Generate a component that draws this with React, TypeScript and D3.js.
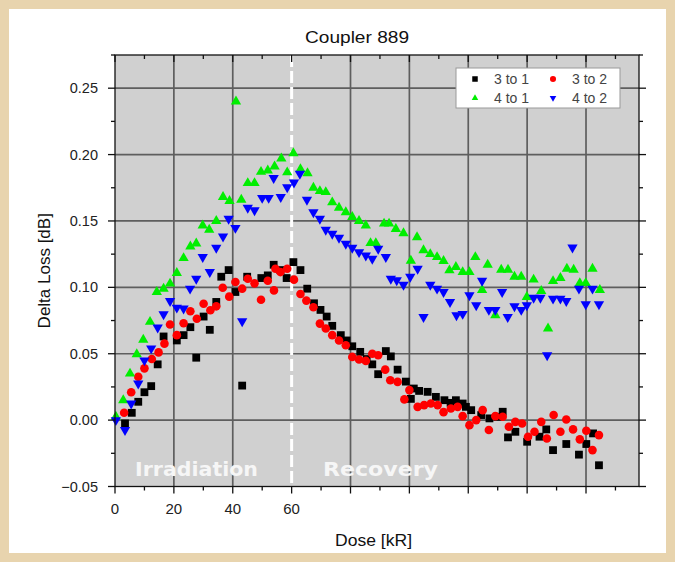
import React from "react";
import * as d3 from "d3";

const title = "Coupler 889";
const xLabel = "Dose [kR]";
const yLabel = "Delta Loss [dB]";
const xTickLabels = [0, 20, 40, 60];
const yTicks = [-0.05, 0.0, 0.05, 0.1, 0.15, 0.2, 0.25];
const xGrid = [20, 40, 80, 100, 120, 140, 160];
const dividerDose = 60;
const phaseLabels = ["Irradiation", "Recovery"];

const s31Dose = [3.4,5.7,7.9,10,12.3,14.5,16.5,21,23.3,25.6,27.6,30.1,32.2,34.4,36.1,38.6,40.9,43.2,44.9,49.7,51.9,53.9,56.2,58.3,60.6,63,65.3,67.6,69.8,71.9,73.8,76.7,78.7,80.6,83.3,85.5,87.4,89.4,92,93.7,96,98.8,100.5,101.5,103.3,106.2,109,111.9,114,115.8,118.1,119.2,121,124.4,127.2,130,131.7,133.5,136,140,144.2,146.5,148.8,153.3,157.6,160.1,162.4,164.4];
const s31Val = [-0.0025,0.0055,0.0138,0.021,0.0256,0.042,0.063,0.06,0.064,0.07,0.047,0.078,0.068,0.089,0.108,0.113,0.0965,0.026,0.108,0.107,0.109,0.117,0.113,0.107,0.119,0.113,0.099,0.088,0.083,0.078,0.071,0.064,0.06,0.0556,0.0514,0.046,0.042,0.0346,0.052,0.048,0.038,0.029,0.016,0.0238,0.022,0.0213,0.0175,0.015,0.013,0.015,0.0125,0.01,0.0075,0.0038,0.0013,0.0025,0.0063,-0.013,-0.0088,-0.0163,-0.0125,-0.007,-0.0226,-0.018,-0.026,-0.018,-0.01,-0.034];

const s32Dose = [3.1,5.5,7.9,10,12.5,14.8,16.8,18.7,21,23.3,25.6,27.8,30.1,32.4,34.4,36.6,38.8,40.9,43.2,45.1,47.4,49.6,51.9,54,54.5,56.2,58.5,60.8,63,65,67.4,69.6,71.6,73.8,76.1,78.4,80.6,82.9,85.2,87.4,89.4,91.8,93.5,96,98.3,100,102.8,105,107.3,109.6,111.6,114.1,116.4,118.1,120.4,122.7,124.9,127,129.2,131.7,133.8,136,138.3,140.3,142.5,144.8,146.7,149,151.3,153.3,155.6,157.9,160.1,162.2,164.4];
const s32Val = [0.0055,0.021,0.0326,0.039,0.046,0.051,0.0576,0.072,0.064,0.073,0.082,0.0764,0.0877,0.0827,0.0857,0.0997,0.093,0.104,0.099,0.1065,0.103,0.0907,0.105,0.0977,0.114,0.1115,0.114,0.1058,0.095,0.09,0.085,0.0727,0.069,0.064,0.06,0.0564,0.0476,0.0456,0.0446,0.05,0.0489,0.038,0.03,0.0288,0.0156,0.0226,0.01,0.0113,0.0125,0.0113,0.006,0.0088,0.01,0.003,-0.0038,0,0.0075,-0.0075,0.003,0.0025,-0.005,-0.0013,-0.0025,-0.0125,-0.0088,-0.0013,-0.0138,0.0038,-0.0088,0.0005,-0.007,-0.0145,-0.008,-0.0226,-0.0113];

const s41Dose = [0.3,2.8,5.1,7.4,9.6,11.9,14.2,16.5,18.7,21,23.3,25.6,27.6,29.8,32,34.4,36.7,38.9,41.1,42.9,45.1,47.4,49.6,51.9,54.2,56.5,58.5,60.6,63,65.4,67.4,69.6,71.6,73.8,76.1,78.4,80.6,82.9,85.2,86.8,88.6,91.4,93.1,95.4,98,100.5,102.6,104.8,107.1,109.4,111.6,113.6,115.8,118.1,120.4,122.4,124.7,126.6,129.2,131.2,133.5,135.7,138,139.9,142.2,144.8,147.1,148.8,151.3,153.5,155.8,157.9,159.9,162.2,164.7];
const s41Val = [0.0025,0.015,0.035,0.0496,0.0606,0.074,0.0965,0.099,0.1028,0.1108,0.122,0.1308,0.133,0.1466,0.1434,0.15,0.168,0.165,0.24,0.166,0.1785,0.1785,0.187,0.188,0.191,0.197,0.1866,0.201,0.189,0.186,0.175,0.1725,0.1717,0.164,0.16,0.1566,0.153,0.15,0.1466,0.1333,0.1333,0.148,0.148,0.144,0.1408,0.12,0.1378,0.128,0.125,0.1228,0.1198,0.1128,0.1153,0.1115,0.1115,0.1228,0.098,0.117,0.079,0.1133,0.1133,0.108,0.108,0.0927,0.1058,0.0972,0.069,0.1047,0.107,0.114,0.1133,0.1032,0.1032,0.114,0.098];

const s42Dose = [0.3,3.4,5.5,7.9,10,12.3,14.5,16.5,18.7,21,23.3,25.5,27.6,29.8,32.2,34.4,36.7,38.6,40.9,43.2,45.1,47.4,50,52.2,53.9,56.3,58.5,60.8,62.8,65.2,67.4,69.6,71.6,73.8,76.1,78.4,80.6,82.9,85.2,87.4,89.4,92,93.7,95.7,98,100.3,102.8,104.8,107.1,109.4,111.6,113.8,116,118.1,120.4,122.7,124.7,127,129.2,131.5,133.4,135.7,138,139.9,142.2,144.5,146.8,148.8,151.3,153.3,155.4,157.6,159.9,162.2,164.4];
const s42Val = [0,-0.0075,0.0125,0.0276,0.045,0.054,0.0697,0.0797,0.0897,0.0847,0.084,0.099,0.1065,0.1228,0.1115,0.1298,0.1383,0.1516,0.1448,0.0744,0.16,0.158,0.1674,0.1674,0.1824,0.168,0.1754,0.179,0.1855,0.166,0.1566,0.1516,0.1434,0.1404,0.1374,0.1328,0.1298,0.1265,0.124,0.1215,0.129,0.1228,0.1065,0.1053,0.102,0.108,0.114,0.0777,0.102,0.099,0.0965,0.089,0.079,0.08,0.094,0.0865,0.105,0.083,0.083,0.0965,0.0777,0.0857,0.083,0.0865,0.0922,0.0922,0.0489,0.0915,0.0915,0.0897,0.13,0.099,0.0872,0.099,0.0872];

const seriesNames = ["3 to 1", "3 to 2", "4 to 1", "4 to 2"];
const seriesColors = ["#000000", "#ff0000", "#00ee00", "#0000ff"];
const seriesShapes = ["square", "circle", "triangleUp", "triangleDown"];
const seriesDose = [s31Dose, s32Dose, s41Dose, s42Dose];
const seriesVal = [s31Val, s32Val, s41Val, s42Val];

const W = 675;
const H = 562;
const L = 115, R = 639, T = 55, B = 486.5;
const FONT = "'Liberation Sans', Arial, sans-serif";

const x = d3.scaleLinear().domain([0, 178]).range([L, R]);
const y = d3.scaleLinear().domain([-0.05, 0.275]).range([B, T]);

function Marker({ shape, cx, cy, color, s }: { shape: string; cx: number; cy: number; color: string; s: number }) {
  if (shape === "square") {
    return <rect x={cx - s / 2} y={cy - s / 2} width={s} height={s} fill={color} />;
  }
  if (shape === "circle") {
    return <circle cx={cx} cy={cy} r={s / 2 + 0.3} fill={color} />;
  }
  const sym = d3.symbol().type(d3.symbolTriangle).size(s * s * 0.62)();
  const rot = shape === "triangleDown" ? 180 : 0;
  return <path d={sym || ""} fill={color} transform={`translate(${cx},${cy}) rotate(${rot})`} />;
}

export default function App() {
  const xMinor = d3.range(0, 179, 10);
  const yMinor = d3.range(-0.05, 0.2751, 0.025);
  return (
    <svg width={W} height={H} style={{ position: "absolute", left: 0, top: 0 }} fontFamily={FONT}>
      <rect x={0} y={0} width={W} height={H} fill="#e8d4ae" />
      <rect x={9} y={9} width={657} height={544} fill="#ffffff" />
      <rect x={L} y={T} width={R - L} height={B - T} fill="#d0d0d0" />
      {/* grid */}
      {xGrid.map((g) => (
        <line key={"xg" + g} x1={x(g)} x2={x(g)} y1={T} y2={B} stroke="#5e5e5e" strokeWidth={1.7} />
      ))}
      {yTicks.filter((t) => t > -0.05).map((t) => (
        <line key={"yg" + t} x1={L} x2={R} y1={y(t)} y2={y(t)} stroke="#5e5e5e" strokeWidth={1.7} />
      ))}
      <line x1={x(dividerDose)} x2={x(dividerDose)} y1={T} y2={B} stroke="#ffffff" strokeWidth={3} strokeDasharray="12,4" />
      {/* phase labels */}
      <text x={135} y={476} fill="#f6f6f6" fontWeight="bold" fontSize={20} fontFamily="'DejaVu Sans', sans-serif" textLength={123} lengthAdjust="spacingAndGlyphs">{phaseLabels[0]}</text>
      <text x={323} y={476} fill="#f6f6f6" fontWeight="bold" fontSize={20} fontFamily="'DejaVu Sans', sans-serif" textLength={115} lengthAdjust="spacingAndGlyphs">{phaseLabels[1]}</text>
      {/* data */}
      {seriesDose.map((ds, si) => (
        <g key={"s" + si}>
          {ds.map((d, i) => (
            <Marker key={i} shape={seriesShapes[si]} cx={x(d)} cy={y(seriesVal[si][i])} color={seriesColors[si]} s={si === 0 ? 7.8 : si === 1 ? 8 : 8.6} />
          ))}
        </g>
      ))}
      {/* frame */}
      <rect x={L} y={T} width={R - L} height={B - T} fill="none" stroke="#111" strokeWidth={1.3} />
      {/* ticks */}
      {xMinor.map((t) => {
        const major = t % 20 === 0;
        const len = major ? 7 : 4;
        return (
          <g key={"xt" + t}>
            <line x1={x(t)} x2={x(t)} y1={B} y2={B + len} stroke="#111" strokeWidth={1.3} />
            <line x1={x(t)} x2={x(t)} y1={T} y2={T + len} stroke="#111" strokeWidth={1.3} />
          </g>
        );
      })}
      {yMinor.map((t, i) => {
        const major = i % 2 === 0;
        const len = major ? 7 : 4;
        return (
          <g key={"yt" + i}>
            <line x1={L - len} x2={L} y1={y(t)} y2={y(t)} stroke="#111" strokeWidth={1.3} />
            <line x1={R} x2={R + len} y1={y(t)} y2={y(t)} stroke="#111" strokeWidth={1.3} />
          </g>
        );
      })}
      {/* tick labels */}
      {xTickLabels.map((t) => (
        <text key={"xl" + t} x={x(t)} y={514} textAnchor="middle" fontSize={15} fill="#222">{t}</text>
      ))}
      {yTicks.map((t) => (
        <text key={"yl" + t} x={98} y={y(t) + 5} textAnchor="end" fontSize={14.5} fill="#222">{d3.format(".2f")(t)}</text>
      ))}
      {/* titles */}
      <text x={305} y={43} fontSize={17} fill="#111" textLength={104} lengthAdjust="spacingAndGlyphs">{title}</text>
      <text x={335} y={546} fontSize={16.5} fill="#111" textLength={77} lengthAdjust="spacingAndGlyphs">{xLabel}</text>
      <text transform={`translate(50,${(T + B) / 2}) rotate(-90)`} textAnchor="middle" fontSize={17} fill="#111">{yLabel}</text>
      {/* legend */}
      <rect x={456} y={68} width={164} height={40} fill="#ffffff" stroke="#999" strokeWidth={1} />
      {seriesNames.map((n, i) => {
        const col = i % 2;
        const row = Math.floor(i / 2);
        const mx = 475 + col * 78;
        const my = 79 + row * 19;
        return (
          <g key={"lg" + i}>
            <Marker shape={seriesShapes[i]} cx={mx} cy={my} color={seriesColors[i]} s={5.5} />
            <text x={mx + 19} y={my + 5} fontSize={14} fill="#444">{n}</text>
          </g>
        );
      })}
    </svg>
  );
}
